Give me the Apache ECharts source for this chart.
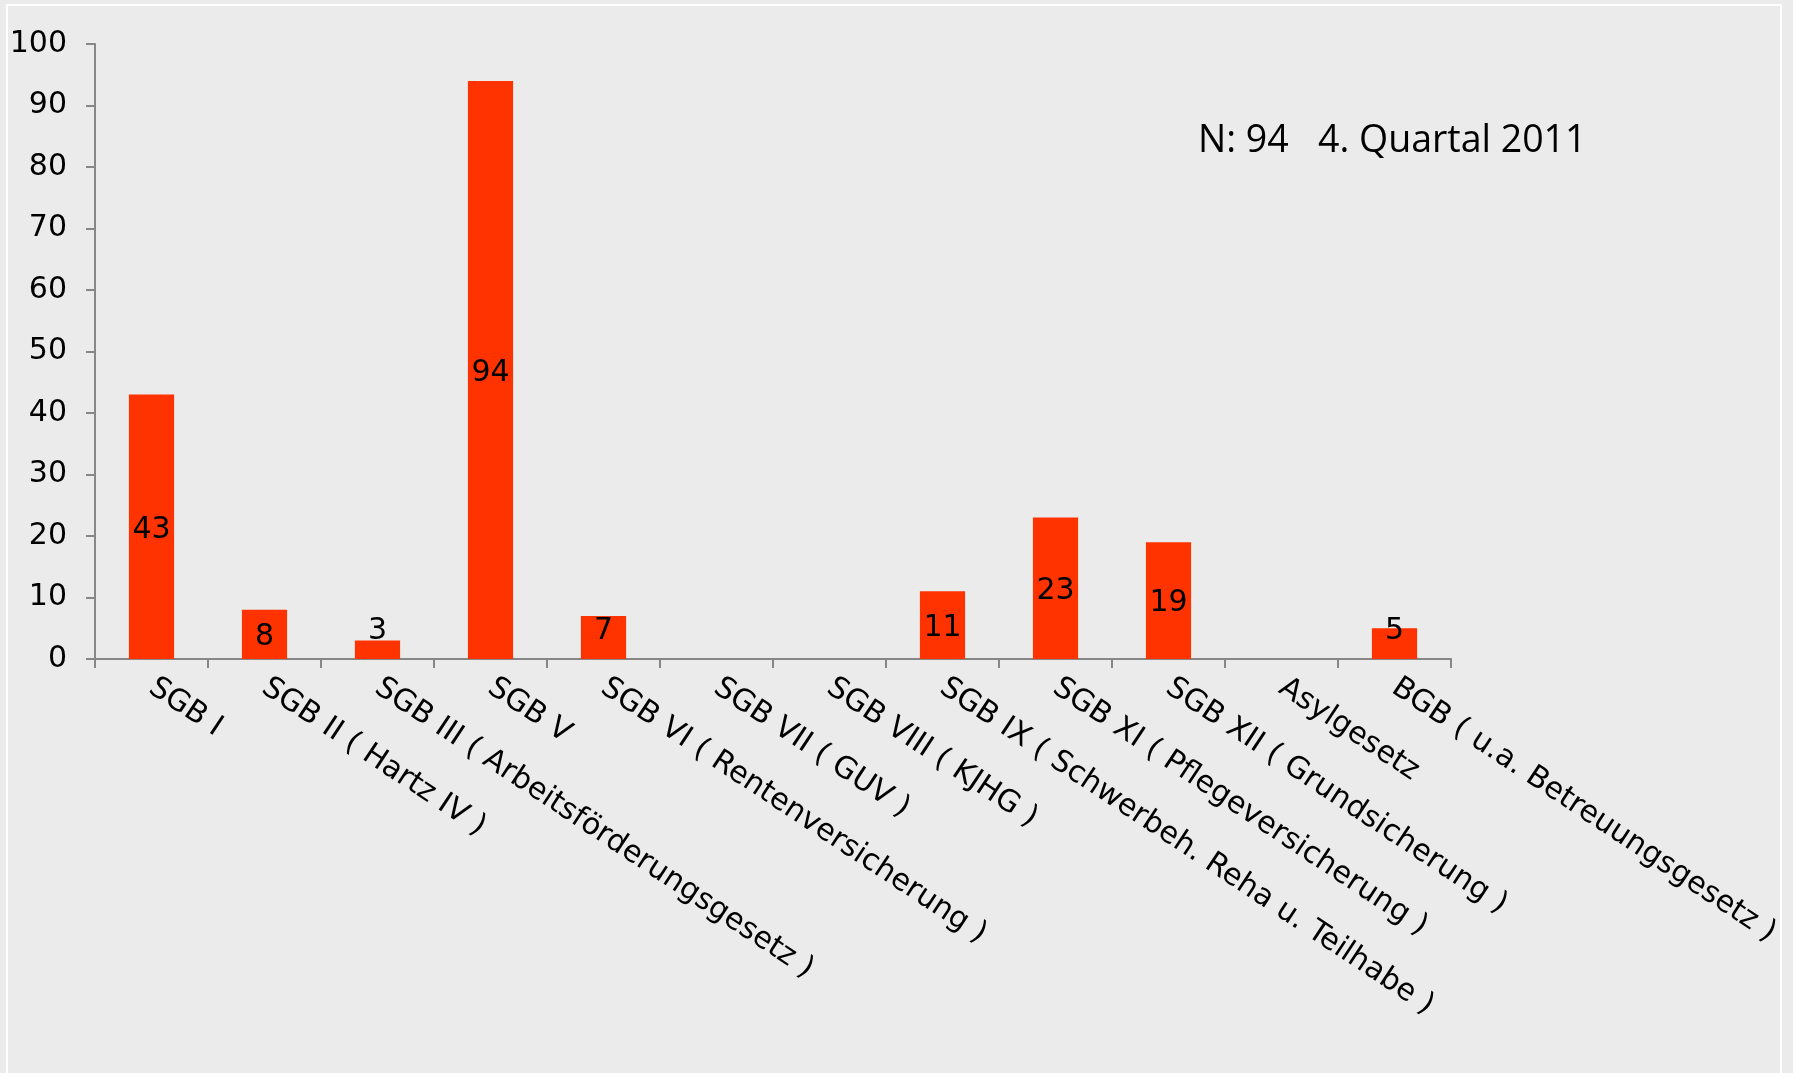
<!DOCTYPE html>
<html>
<head>
<meta charset="utf-8">
<title>SGB Verteilung</title>
<script src="https://cdn.jsdelivr.net/npm/echarts@6/dist/echarts.min.js"></script>
<style>
  html, body { margin: 0; padding: 0; background: #ebebeb; }
  #chart { width: 1793px; height: 1073px; }
</style>
</head>
<body>
<div id="chart"></div>
<script>
// Categories (Gesetzbücher) and counts per category
const categories = [
  'SGB I',
  'SGB II ( Hartz IV )',
  'SGB III ( Arbeitsförderungsgesetz )',
  'SGB V',
  'SGB VI ( Rentenversicherung )',
  'SGB VII ( GUV )',
  'SGB VIII ( KJHG )',
  'SGB IX ( Schwerbeh. Reha u. Teilhabe )',
  'SGB XI ( Pflegeversicherung )',
  'SGB XII ( Grundsicherung )',
  'Asylgesetz',
  'BGB ( u.a. Betreuungsgesetz )'
];
const counts = [43, 8, 3, 94, 7, null, null, 11, 23, 19, null, 5];
const yTicks = { min: 0, max: 100, interval: 10 };
const headline = 'N: 94   4. Quartal 2011';

const labelFont = 'DejaVu Sans, Verdana, sans-serif';

const chart = echarts.init(document.getElementById('chart'), null, { renderer: 'canvas' });

// short bars get their value label lifted so it sits above the axis
const seriesData = counts.map(v => {
  if (v === null) return { value: null };
  if (v < 8) {
    return { value: v, label: { position: 'insideBottom', distance: 13, offset: [0, 0] } };
  }
  return { value: v };
});

chart.setOption({
  backgroundColor: '#ebebeb',
  animation: false,
  title: {
    text: headline,
    left: 1193,
    top: 117,
    textStyle: {
      fontFamily: 'Open Sans, sans-serif',
      fontWeight: 'normal',
      fontSize: 37.5,
      color: '#000'
    }
  },
  graphic: [{
    type: 'rect',
    shape: { x: 7, y: 5, width: 1774, height: 1200 },
    style: { fill: 'none', stroke: '#ffffff', lineWidth: 2 },
    silent: true,
    z: -1
  }],
  grid: { left: 95, right: 342, top: 44, bottom: 414, containLabel: false },
  xAxis: {
    type: 'category',
    data: categories,
    boundaryGap: true,
    axisLine: { show: true, lineStyle: { color: '#878787', width: 2 } },
    axisTick: { show: true, alignWithLabel: false, length: 9, lineStyle: { color: '#878787', width: 2 } },
    axisLabel: {
      interval: 0,
      rotate: -33.5,
      margin: 26,
      fontFamily: labelFont,
      fontSize: 30,
      color: '#000'
    },
    splitLine: { show: false }
  },
  yAxis: {
    type: 'value',
    min: yTicks.min,
    max: yTicks.max,
    interval: yTicks.interval,
    axisLine: { show: true, lineStyle: { color: '#878787', width: 2 } },
    axisTick: { show: true, length: 9, lineStyle: { color: '#878787', width: 2 } },
    axisLabel: {
      margin: 28,
      fontFamily: labelFont,
      fontSize: 30,
      color: '#000'
    },
    splitLine: { show: false }
  },
  series: [{
    type: 'bar',
    data: seriesData,
    barWidth: '40%',
    itemStyle: { color: '#ff3300' },
    label: {
      show: true,
      position: 'inside',
      offset: [0, 3],
      fontFamily: labelFont,
      fontSize: 30,
      color: '#000'
    }
  }]
});
</script>
</body>
</html>
